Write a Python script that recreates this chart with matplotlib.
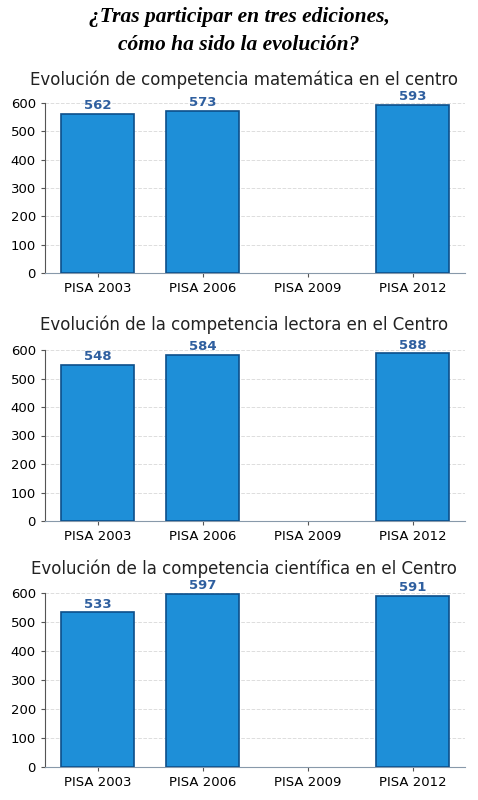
import matplotlib
matplotlib.use("Agg")
import matplotlib.pyplot as plt

categories = ["PISA 2003", "PISA 2006", "PISA 2009", "PISA 2012"]
mate = [562, 573, None, 593]
lectora = [548, 584, None, 588]
ciencia = [533, 597, None, 591]
titles = ["Evolución de competencia matemática en el centro",
          "Evolución de la competencia lectora en el Centro",
          "Evolución de la competencia científica en el Centro"]
yticks = [0, 100, 200, 300, 400, 500, 600]

W, H = 478, 800
fig = plt.figure(figsize=(W/100, H/100), dpi=100)
fig.text(0.5, 1-17/H, "¿Tras participar en tres ediciones,", ha="center", va="center",
         family="Liberation Serif", style="italic", weight="bold", fontsize=15.5)
fig.text(0.5, 1-45/H, "cómo ha sido la evolución?", ha="center", va="center",
         family="Liberation Serif", style="italic", weight="bold", fontsize=15.5)

panels = [(103, 273, 80), (350, 521, 325), (593, 767, 569)]
for (top, bot, ty), vals, title in zip(panels, [mate, lectora, ciencia], titles):
    ax = fig.add_axes([45/W, 1-bot/H, (465-45)/W, (bot-top)/H])
    xs = [i for i, v in enumerate(vals) if v is not None]
    vs = [v for v in vals if v is not None]
    ax.bar(xs, vs, width=0.7, color="#1e8fd8", edgecolor="#0d4f8a", linewidth=1.2, zorder=3)
    for x, v in zip(xs, vs):
        ax.text(x, v + 6, str(v), ha="center", va="bottom", color="#2f5f9f",
                fontsize=9.5, weight="bold", zorder=4, clip_on=False)
    ax.set_xlim(-0.5, 3.5)
    ax.set_ylim(0, 600)
    ax.set_yticks(yticks)
    ax.set_xticks(range(len(categories)))
    ax.set_xticklabels(categories, fontsize=9.5)
    ax.tick_params(labelsize=9.5, length=3, color="#555555")
    ax.grid(axis="y", color="#dddddd", linestyle="--", linewidth=0.7, zorder=0)
    for s in ["top", "right"]:
        ax.spines[s].set_visible(False)
    ax.spines["left"].set_color("#555555")
    ax.spines["bottom"].set_color("#8899aa")
    fig.text(0.5 + 5/W, 1-ty/H, title, ha="center", va="center", fontsize=12, color="#222222")

fig.savefig("out.png", dpi=100)
